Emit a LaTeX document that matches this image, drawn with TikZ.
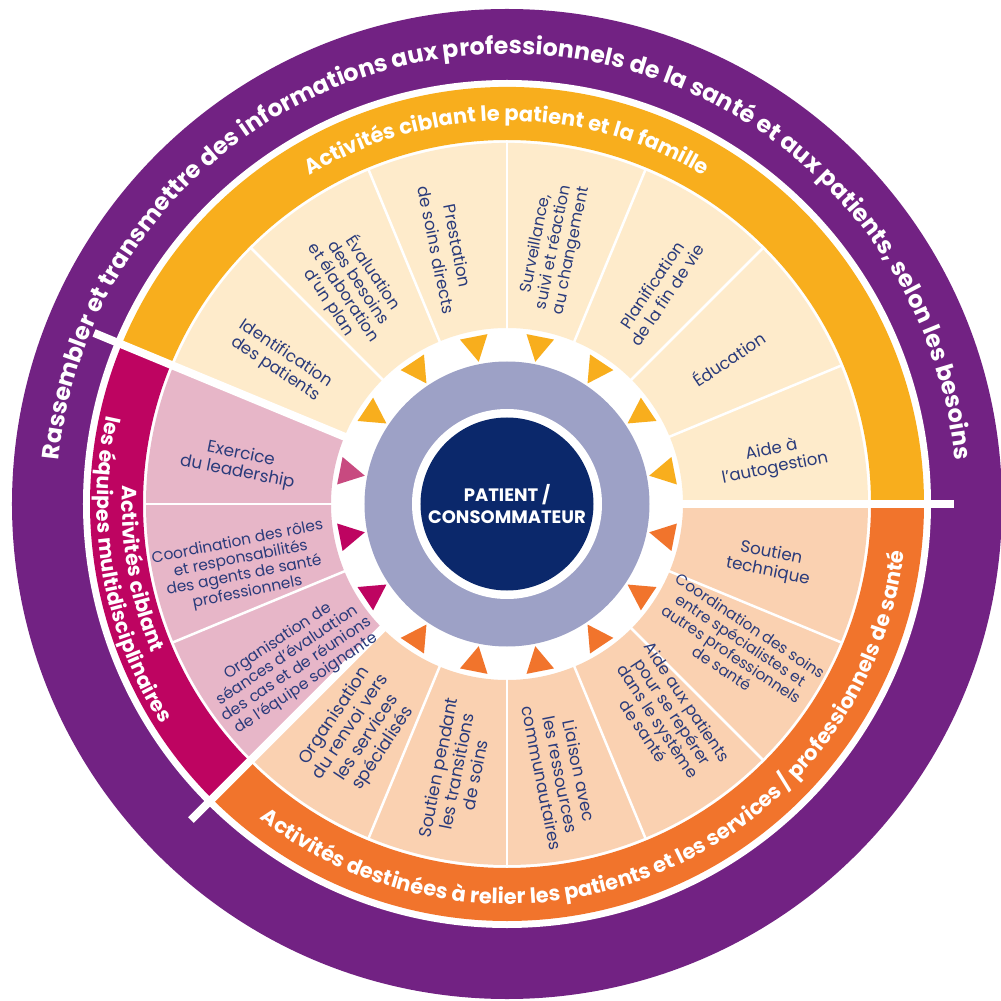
\documentclass[tikz,border=0pt]{standalone}
\usepackage{fontspec}
\setmainfont{Poppins}
\usetikzlibrary{decorations.text}

\definecolor{ringpurple}{HTML}{722283}
\definecolor{bandyellow}{HTML}{F8AE1D}
\definecolor{lightyellow}{HTML}{FEEBCB}
\definecolor{bandorange}{HTML}{F1742C}
\definecolor{lightorange}{HTML}{FAD1B1}
\definecolor{bandmagenta}{HTML}{BE0461}
\definecolor{lightpink}{HTML}{E7B6C8}
\definecolor{softmagenta}{HTML}{C84A80}
\definecolor{ringgray}{HTML}{9DA1C6}
\definecolor{coreblue}{HTML}{0B286B}
\definecolor{labelblue}{HTML}{2A3B7B}

% annular piece: start angle, end angle, inner radius, outer radius, colour
\newcommand\ringpiece[5]{%
  \fill[#5] (#1:#3pt) arc[start angle=#1, end angle=#2, radius=#3pt]
    -- (#2:#4pt) arc[start angle=#2, end angle=#1, radius=#4pt] -- cycle;}

\tikzset{
  sectorlabel/.style 2 args={text=labelblue, align=center, inner sep=0pt,
    font=\fontsize{#1}{#2}\selectfont},
  thinsep/.style={white, line width=2.5pt},
  groupsep/.style={white, line width=8pt},
  arctext/.style={decorate, decoration={text along path, text align=center,
    text color=white, text={#1}}},
}

\begin{document}
\begin{tikzpicture}[x=1pt,y=1pt]
\useasboundingbox (-507,-497) rectangle (494,504);

% outer purple ring
\fill[ringpurple] (0,0) circle[radius=495pt];
\fill[white] (0,0) circle[radius=424pt];

% group bands
\ringpiece{0}{157.5}{364}{417}{bandyellow}
\ringpiece{157.5}{225}{364}{417}{bandmagenta}
\ringpiece{225}{360}{364}{417}{bandorange}

% activity sectors
\ringpiece{0}{157.5}{176}{361}{lightyellow}
\ringpiece{157.5}{225}{176}{361}{lightpink}
\ringpiece{225}{360}{176}{361}{lightorange}

% separators between activities
\foreach \a in {22.5,45,67.5,90,112.5,135,180,202.5,247.5,270,292.5,315,337.5}
  \draw[thinsep] (\a:174) -- (\a:362);

% separators between groups
\foreach \a in {0,157.5,225}
  \draw[groupsep] (\a:170) -- (\a:447);

% centre
\fill[ringgray] (0,0) circle[radius=142.5pt];
\fill[white] (0,0) circle[radius=95pt];
\node[circle, fill=coreblue, minimum size=173pt, inner sep=0pt, text=white,
  align=center, font=\bfseries\fontsize{18}{22}\selectfont] (core) at (0,0)
  {PATIENT /\\CONSOMMATEUR};

% pointers towards the patient
\foreach \m/\c in {11.25/bandyellow,33.75/bandyellow,56.25/bandyellow,
    78.75/bandyellow,101.25/bandyellow,123.75/bandyellow,146.25/bandyellow,
    168.75/softmagenta,191.25/bandmagenta,213.75/bandmagenta,
    236.25/bandorange,258.75/bandorange,281.25/bandorange,303.75/bandorange,
    326.25/bandorange,348.75/bandorange}
  \fill[\c] (\m:145) -- ({\m-4.7}:171) -- ({\m+4.7}:171) -- cycle;

% activity labels
\node[sectorlabel={16.6}{18.5}, rotate=11.25] (autogestion) at (9.5:270) {Aide à\\l’autogestion};
\node[sectorlabel={16.6}{18.5}, rotate=33.75] (education) at (33.3:265) {Éducation};
\node[sectorlabel={16.4}{18.5}, rotate=56.25] (findevie) at (54.5:263) {Planification\\de la fin de vie};
\node[sectorlabel={16}{18}, rotate=78.75] (surveillance) at (79.6:261) {Surveillance,\\suivi et réaction\\au changement};
\node[sectorlabel={16.7}{21.5}, rotate=-78.75] (prestation) at (103.2:263) {Prestation\\de soins directs};
\node[sectorlabel={16.3}{17.5}, rotate=-56.25] (evaluation) at (125.7:266.6) {Évaluation\\des besoins\\et élaboration\\d’un plan};
\node[sectorlabel={16.5}{18.5}, rotate=-33.75] (identification) at (147.8:267.6) {Identification\\des patients};
\node[sectorlabel={16.9}{18.5}, rotate=-11.25] (leadership) at (171.4:271) {Exercice\\du leadership};
\node[sectorlabel={15.4}{17}, rotate=11.25] (roles) at (193.5:272) {Coordination des rôles\\et responsabilités\\des agents de santé\\professionnels};
\node[sectorlabel={15.6}{17}, rotate=33.75] (seances) at (216.5:267) {Organisation de\\séances d’évaluation\\des cas et de réunions\\de l’équipe soignante};
\node[sectorlabel={17.4}{19.5}, rotate=56.25] (renvoi) at (237.1:272) {Organisation\\du renvoi vers\\les services\\spécialisés};
\node[sectorlabel={17.2}{19}, rotate=78.75] (transitions) at (259.3:272) {Soutien pendant\\les transitions\\de soins};
\node[sectorlabel={16.8}{19}, rotate=-78.75] (liaison) at (281.2:276) {Liaison avec\\les ressources\\communautaires};
\node[sectorlabel={16.2}{17.5}, rotate=-56.25] (reperer) at (306.7:265) {Aide aux patients\\pour se repérer\\dans le système\\de santé};
\node[sectorlabel={15.3}{17}, rotate=-33.75] (specialistes) at (328:270) {Coordination des soins\\entre spécialistes et\\autres professionnels\\de santé};
\node[sectorlabel={16.8}{18.5}, rotate=-11.25] (technique) at (347.4:269) {Soutien\\technique};

% curved headings
\path[arctext={|\bfseries\fontsize{23.8}{23.8}\selectfont|Rassembler et transmettre des informations aux professionnels de la santé et aux patients, selon les besoins}]
  (195:450) arc[start angle=195, end angle=-15, radius=450pt];
\path[arctext={|\bfseries\fontsize{21}{21}\selectfont|Activités ciblant le patient et la famille}]
  (150:383) arc[start angle=150, end angle=30, radius=383pt];
\path[arctext={|\bfseries\fontsize{21}{21}\selectfont|Activités destinées à relier les patients et les services / professionnels de santé}]
  (212:400) arc[start angle=212, end angle=373, radius=400pt];
\path[arctext={|\bfseries\fontsize{20.5}{20.5}\selectfont|Activités ciblant}]
  (150:385) arc[start angle=150, end angle=230, radius=385pt];
\path[arctext={|\bfseries\fontsize{20.5}{20.5}\selectfont|les équipes multidisciplinaires}]
  (150:410) arc[start angle=150, end angle=230, radius=410pt];
\end{tikzpicture}
\end{document}
